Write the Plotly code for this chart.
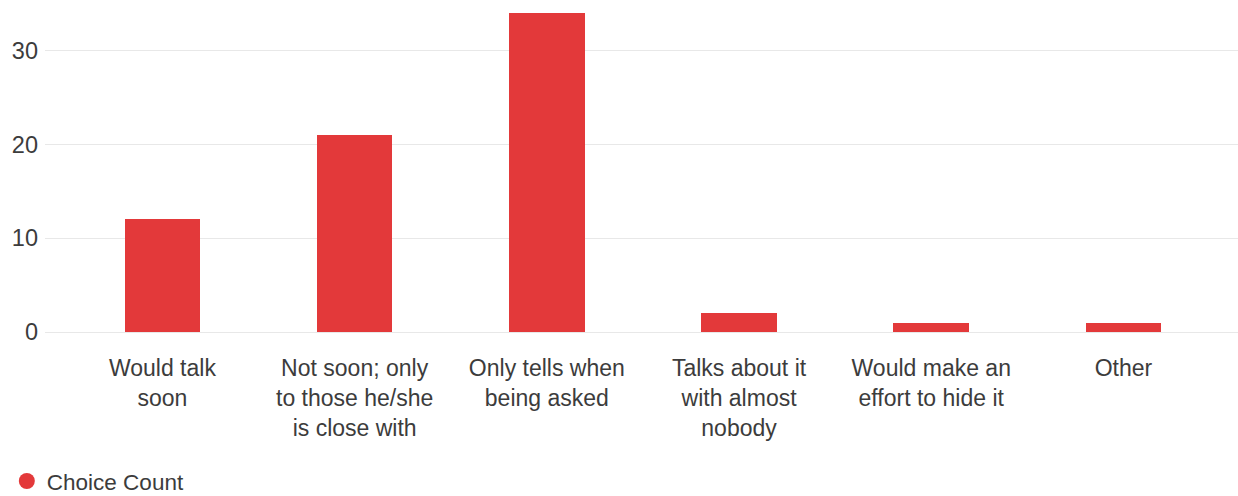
import plotly.graph_objects as go

# Survey answers and how many respondents picked each one
categories = [
    "Would talk<br>soon",
    "Not soon; only<br>to those he/she<br>is close with",
    "Only tells when<br>being asked",
    "Talks about it<br>with almost<br>nobody",
    "Would make an<br>effort to hide it",
    "Other",
]
choice_counts = [12, 21, 34, 2, 1, 1]
y_ticks = [0, 10, 20, 30]
series_name = "Choice Count"

BAR_RED = "#e3393a"
TEXT = "#3c3c3c"
GRID = "#e8e8e8"
FONT = "Liberation Sans, Arial, sans-serif"

fig = go.Figure()
fig.add_trace(go.Bar(
    x=list(range(len(categories))),
    y=choice_counts,
    width=0.393,
    marker=dict(color=BAR_RED, line=dict(width=0)),
    name=series_name,
    showlegend=False,
))
# legend entry drawn with a round swatch
fig.add_trace(go.Scatter(
    x=[None], y=[None],
    mode="markers",
    marker=dict(color=BAR_RED, size=16, symbol="circle"),
    name=series_name,
    showlegend=True,
))

fig.update_layout(
    width=1238,
    height=496,
    margin=dict(l=45, r=0, t=0, b=164, autoexpand=False),
    paper_bgcolor="white",
    plot_bgcolor="white",
    font=dict(family=FONT, color=TEXT, size=22),
    bargap=0,
    showlegend=True,
    legend=dict(
        x=-0.032, xanchor="left",
        y=-0.45, yanchor="middle",
        font=dict(size=22.5, color=TEXT),
        bgcolor="rgba(0,0,0,0)",
        itemclick=False,
    ),
    xaxis=dict(
        range=[-0.611, 5.596],
        tickmode="array",
        tickvals=list(range(len(categories))),
        ticktext=categories,
        showgrid=False,
        zeroline=False,
        showline=False,
        ticks="",
        automargin=False,
        ticklabelstandoff=20,
        tickfont=dict(size=23, color=TEXT),
    ),
    yaxis=dict(
        range=[0, 35.4],
        tickmode="array",
        tickvals=y_ticks,
        showgrid=True,
        gridcolor=GRID,
        gridwidth=1,
        zeroline=True,
        zerolinecolor=GRID,
        zerolinewidth=1,
        showline=False,
        ticks="",
        automargin=False,
        ticklabelstandoff=6,
        tickfont=dict(size=23.5, color=TEXT),
    ),
)

fig.write_html("out.html")
